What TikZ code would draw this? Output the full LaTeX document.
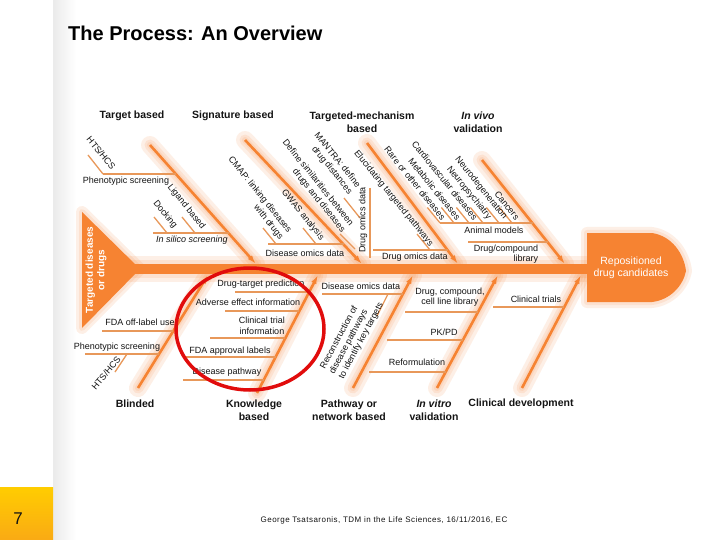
\documentclass[tikz,border=0pt]{standalone}
\usepackage{fontspec}
\setmainfont{Liberation Sans}
\usetikzlibrary{arrows.meta,shapes.geometric}
\definecolor{org}{RGB}{246,131,50}
\definecolor{subc}{RGB}{232,152,90}
\definecolor{txt}{RGB}{20,20,20}
\definecolor{ringred}{RGB}{225,12,12}
\definecolor{ylwA}{RGB}{255,205,0}
\definecolor{ylwB}{RGB}{250,170,20}
\begin{document}
\begin{tikzpicture}[x=1pt,y=-1pt,
  lbl/.style={font=\fontsize{9}{10.5}\selectfont, text=txt, inner sep=0pt},
  rlbl/.style={lbl, rotate=-51, anchor=south east, align=right},
  cat/.style={font=\fontsize{10.5}{12.5}\selectfont\bfseries, text=txt, inner sep=0pt, align=center},
  glow/.style={preaction={draw=org,-,line width=#1,draw opacity=0.12,line cap=round,line join=round}},
  bone/.style={draw=org, line width=2.6pt, -{Latex[length=9pt,width=5.5pt]}, glow=18pt, glow=11pt, glow=6pt},
  sub/.style={draw=subc, line width=1.3pt},
]
\useasboundingbox (0,0) rectangle (720,540);
\fill[white] (0,0) rectangle (720,540);
\shade[left color=black!8, right color=white] (53,0) rectangle (76,540);
\shade[top color=ylwA, bottom color=ylwB] (0,487) rectangle (53,540);
\node[font=\fontsize{17}{20}\selectfont, text=txt] (pg) at (18,519) {7};
\node[font=\fontsize{20}{24}\selectfont\bfseries, anchor=west, text=black, inner sep=0pt] (title) at (68,33) {The Process: An Overview};
\node[font=\fontsize{8}{9}\selectfont\addfontfeature{LetterSpace=6}, text=txt] (foot) at (384,520) {George Tsatsaronis, TDM in the Life Sciences, 16/11/2016, EC};

% ---------- coordinates
\coordinate (tr1) at (82,212);
\coordinate (tr2) at (82,328);
\coordinate (tr3) at (140,269);
\coordinate (sp0) at (130,269);
\coordinate (sp1) at (592,269);
% upper bones
\coordinate (tA1) at (150,145); \coordinate (tA2) at (256,264);
\coordinate (tB1) at (245,140); \coordinate (tB2) at (362,264);
\coordinate (tC1) at (367,143); \coordinate (tC2) at (458,264);
\coordinate (tD1) at (482,160); \coordinate (tD2) at (565,264);
% lower bones
\coordinate (bA1) at (138,388); \coordinate (bA2) at (208,275);
\coordinate (bB1) at (257,393); \coordinate (bB2) at (318,275);
\coordinate (bC1) at (353,388); \coordinate (bC2) at (413,275);
\coordinate (bD1) at (437,388); \coordinate (bD2) at (498,275);
\coordinate (bE1) at (522,388); \coordinate (bE2) at (581,275);

% ---------- spine, tail and head
\draw[org, line width=10pt, glow=26pt, glow=18pt] (sp0) -- (sp1);
\fill[org, glow=12pt, glow=6pt] (tr1) -- (tr3) -- (tr2) -- cycle;
\fill[org, glow=12pt, glow=6pt] (587,233) -- (652,233) .. controls (672,236) and (684,254) .. (686,271) .. controls (683,286) and (670,300) .. (652,302) -- (587,302) -- cycle;
\node[font=\fontsize{10}{11.5}\selectfont\bfseries, text=white, rotate=90, align=center, inner sep=0pt] (tgt) at (96,270) {Targeted diseases\\or drugs};
\node[font=\fontsize{10.5}{12}\selectfont, text=white, align=center, inner sep=0pt] (head) at (631,268) {Repositioned\\drug candidates};

% ---------- main bones
\draw[bone] (tA1) -- (tA2);
\draw[bone] (tB1) -- (tB2);
\draw[bone] (tC1) -- (tC2);
\draw[bone] (tD1) -- (tD2);
\draw[bone] (bA1) -- (bA2);
\draw[bone] (bB1) -- (bB2);
\draw[bone] (bC1) -- (bC2);
\draw[bone] (bD1) -- (bD2);
\draw[bone] (bE1) -- (bE2);

% ---------- sub lines, upper
\coordinate (u1a) at (88,155);   \coordinate (u1b) at (103,174);
\coordinate (u2a) at (103,174);  \coordinate (u2b) at (176,174);
\coordinate (u3a) at (154,217);  \coordinate (u3b) at (167,233);
\coordinate (u4a) at (182,217);  \coordinate (u4b) at (195,233);
\coordinate (u5a) at (153,233);  \coordinate (u5b) at (229,233);
\coordinate (u6a) at (263,228);  \coordinate (u6b) at (276,244);
\coordinate (u7a) at (303,228);  \coordinate (u7b) at (316,244);
\coordinate (u8a) at (268,244);  \coordinate (u8b) at (344,244);
\coordinate (u9a) at (370,188);  \coordinate (u9b) at (370,258);
\coordinate (u10a) at (344,198); \coordinate (u10b) at (360,218);
\coordinate (u11a) at (340,234); \coordinate (u11b) at (355,249);
\coordinate (u12a) at (417,234); \coordinate (u12b) at (430,250);
\coordinate (u13a) at (373,250); \coordinate (u13b) at (448,250);
\coordinate (u14a) at (440,223); \coordinate (u14b) at (533,223);
\coordinate (u15a) at (468,242); \coordinate (u15b) at (548,242);
\foreach \n in {1,...,15} {\draw[sub] (u\n a) -- (u\n b);}
\foreach \x [count=\i] in {440,454,469,483,499,512} {
  \coordinate (v\i a) at (\x-12.6,207.5); \coordinate (v\i b) at (\x,223);
  \draw[sub] (v\i a) -- (v\i b);}

% ---------- sub lines, lower
\coordinate (w1a) at (102,331); \coordinate (w1b) at (173,331);
\coordinate (w2a) at (85,354);  \coordinate (w2b) at (159,354);
\coordinate (w3a) at (115,372); \coordinate (w3b) at (127,354);
\coordinate (w4a) at (235,292); \coordinate (w4b) at (309,292);
\coordinate (w5a) at (225,311); \coordinate (w5b) at (299,311);
\coordinate (w6a) at (210,338); \coordinate (w6b) at (285,338);
\coordinate (w7a) at (185,357); \coordinate (w7b) at (276,357);
\coordinate (w8a) at (183,380); \coordinate (w8b) at (264,380);
\coordinate (w9a) at (322,294); \coordinate (w9b) at (403,294);
\coordinate (w10a) at (377,316); \coordinate (w10b) at (388,294);
\coordinate (w11a) at (405,312); \coordinate (w11b) at (478,312);
\coordinate (w12a) at (387,340); \coordinate (w12b) at (463,340);
\coordinate (w13a) at (369,372); \coordinate (w13b) at (446,372);
\coordinate (w14a) at (493,307); \coordinate (w14b) at (564,307);
\foreach \n in {1,...,14} {\draw[sub] (w\n a) -- (w\n b);}

% ---------- category labels
\node[cat] (c1) at (132,116) {Target based};
\node[cat] (c2) at (233,116) {Signature based};
\node[cat] (c3) at (362,122) {Targeted-mechanism\\based};
\node[cat] (c4) at (478,122) {\textit{In vivo}\\validation};
\node[cat] (c5) at (135,404) {Blinded};
\node[cat] (c6) at (254,410) {Knowledge\\based};
\node[cat] (c7) at (349,410) {Pathway or\\network based};
\node[cat] (c8) at (434,410) {\textit{In vitro}\\validation};
\node[cat] (c9) at (521,404) {Clinical development};

% ---------- upper labels
\node[rlbl] (hts1) at (111,171) {HTS/HCS};
\node[lbl] (phs1) at (126,181) {Phenotypic screening};
\node[rlbl] (dock) at (172,230) {Docking};
\node[rlbl] (lig) at (200,231) {Ligand based};
\node[lbl,font=\fontsize{9}{10.5}\selectfont\itshape] (insil) at (192,240) {In silico screening};
\node[rlbl] (cmap) at (278,241) {CMAP: linking diseases\\with drugs};
\node[rlbl] (gwas) at (319,242) {GWAS analysis};
\node[lbl] (dod1) at (305,253) {Disease omics data};
\node[rlbl] (defs) at (340,234) {Define similarities between\\drugs and diseases};
\node[rlbl] (mantra) at (347,196) {MANTRA: define\\drug distances};
\node[lbl,rotate=90] (drom1) at (363,220) {Drug omics data};
\node[rlbl] (eluc) at (428,248) {Elucidating targeted pathways};
\node[lbl] (drom2) at (415,257) {Drug omics data};
\node[rlbl] (rare) at (441,221) {Rare or other diseases};
\node[rlbl] (metab) at (456,221) {Metabolic diseases};
\node[rlbl] (cardio) at (473,221) {Cardiovascular diseases};
\node[rlbl] (neurop) at (486,221) {Neuropsychiatry};
\node[rlbl] (neurod) at (502,221) {Neurodegeneration};
\node[rlbl] (canc) at (515,221) {Cancers};
\node[lbl] (anim) at (494,230) {Animal models};
\node[lbl,align=right] (dcl) at (506,254) {Drug/compound\\library};

% ---------- lower labels
\node[lbl] (fda1) at (140,322) {FDA off-label use};
\node[lbl] (phs2) at (117,347) {Phenotypic screening};
\node[lbl,rotate=50] (hts2) at (106,373) {HTS/HCS};
\node[lbl] (dtp) at (261,284) {Drug-target prediction};
\node[lbl] (adv) at (248,302) {Adverse effect information};
\node[lbl,align=center] (ctr) at (262,326) {Clinical trial\\information};
\node[lbl] (fdaap) at (230,351) {FDA approval labels};
\node[lbl] (dpw) at (227,372) {Disease pathway};
\node[lbl] (dod2) at (361,286) {Disease omics data};
\node[lbl,rotate=62,align=left] (recon) at (352,336) {Reconstruction of\\disease pathways\\to identify key targets};
\node[lbl,align=center] (dccl) at (450,297) {Drug, compound,\\cell line library};
\node[lbl] (pkpd) at (444,332) {PK/PD};
\node[lbl] (reform) at (417,362) {Reformulation};
\node[lbl] (clt) at (536,299) {Clinical trials};

% ---------- red ring
\node[draw=ringred, line width=3.5pt, ellipse, minimum width=148pt, minimum height=122pt, inner sep=0pt] (ring) at (250,329) {};
\end{tikzpicture}
\end{document}
